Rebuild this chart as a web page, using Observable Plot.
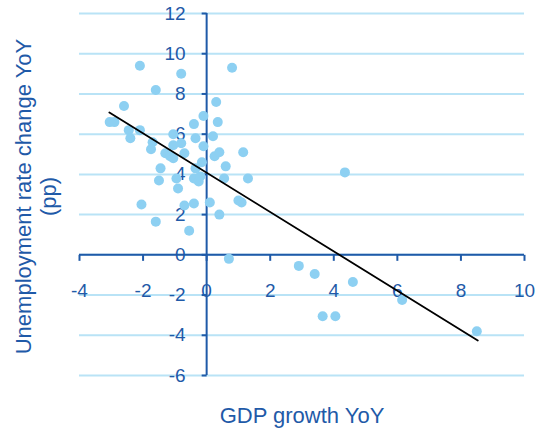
<!DOCTYPE html>
<html>
<head>
<meta charset="utf-8">
<script src="https://cdn.jsdelivr.net/npm/d3@7"></script>
<script src="https://cdn.jsdelivr.net/npm/@observablehq/plot@0.6"></script>
<style>
  html, body { margin: 0; padding: 0; background: #fff; }
</style>
</head>
<body>
<div id="chart"></div>
<script>
// GDP growth YoY (x) and unemployment rate change YoY in pp (y)
const gdpGrowth = [-2.1, -0.8, 0.8, -1.6, -2.6, 0.3, -3.05, -2.9, -0.1, 0.35,
  -0.4, -2.45, -2.1, -2.4, -1.05, -0.35, 0.2, -1.7, -0.8, -1.05,
  -0.1, -1.75, -1.3, -1.15, -1.05, -0.7, 0.25, 0.4, 1.15, -0.15,
  0.6, -1.45, -0.35, -1.5, -0.95, -0.4, -0.25, -0.2, 0.55, 1.3,
  -0.9, -2.05, -0.7, -0.4, 0.1, 1.0, 1.1, 0.4, -1.6, -0.55,
  0.7, 4.35, 2.9, 3.4, 4.6, 6.15, 3.65, 4.05, 8.5];
const unempChange = [9.4, 9.0, 9.3, 8.2, 7.4, 7.6, 6.6, 6.6, 6.9, 6.6,
  6.5, 6.2, 6.2, 5.8, 6.0, 5.8, 5.9, 5.6, 5.55, 5.45,
  5.4, 5.25, 5.05, 4.9, 4.8, 5.05, 4.9, 5.1, 5.1, 4.6,
  4.4, 4.3, 4.3, 3.7, 3.8, 3.8, 3.65, 3.9, 3.8, 3.8,
  3.3, 2.5, 2.45, 2.55, 2.6, 2.7, 2.6, 2.0, 1.65, 1.2,
  -0.2, 4.1, -0.55, -0.95, -1.35, -2.25, -3.05, -3.05, -3.8];
// linear trend line end points
const trendGdp = [-3.06, 8.53];
const trendUnemp = [7.08, -4.26];
// tick labels
const xTicks = [-4, -2, 0, 2, 4, 6, 8, 10];
const yTicks = [12, 10, 8, 6, 4, 2, 0, -2, -4, -6];
const xTitle = "GDP growth YoY";
const yTitle = "Unemployment rate change YoY\n(pp)";

const points = gdpGrowth.map((x, i) => ({x, y: unempChange[i]}));
const trend = trendGdp.map((x, i) => ({x, y: trendUnemp[i]}));

const axisColor = "#1f5aa8";
const gridColor = "#b9e3f6";
const dotColor = "#8dd0f2";
const font = "'Liberation Sans', Arial, sans-serif";

const yTickSym = {draw(ctx) { ctx.moveTo(-5, 0); ctx.lineTo(0, 0); }};
const xTickSym = {draw(ctx) { ctx.moveTo(0, 0); ctx.lineTo(0, 6); }};

const chart = Plot.plot({
  width: 535,
  height: 438,
  marginLeft: 79,
  marginRight: 11,
  marginTop: 13,
  marginBottom: 63,
  style: {fontFamily: font, background: "#fff", overflow: "visible"},
  x: {domain: [-4, 10], axis: null},
  y: {domain: [-6, 12], axis: null},
  marks: [
    Plot.ruleY(yTicks, {stroke: gridColor, strokeWidth: 2}),
    Plot.ruleX([0], {y1: yTicks[yTicks.length - 1], y2: yTicks[0], stroke: axisColor, strokeWidth: 2}),
    Plot.ruleY([0], {x1: xTicks[0], x2: xTicks[xTicks.length - 1], stroke: axisColor, strokeWidth: 2}),
    Plot.dot(yTicks, {x: 0, y: d => d, symbol: yTickSym, stroke: axisColor, strokeWidth: 2, fill: "none"}),
    Plot.dot(xTicks, {x: d => d, y: 0, symbol: xTickSym, stroke: axisColor, strokeWidth: 2, fill: "none"}),
    Plot.text(yTicks, {x: 0, y: d => d, text: d => String(d), dx: -21, textAnchor: "end", fill: axisColor, fontSize: 19}),
    Plot.text(xTicks, {x: d => d, y: 0, text: d => String(d), dy: 36, fill: axisColor, fontSize: 19}),
    Plot.dot(points, {x: "x", y: "y", r: 5, fill: dotColor, stroke: "none"}),
    Plot.line(trend, {x: "x", y: "y", stroke: "#000", strokeWidth: 1.8}),
    Plot.text([xTitle], {frameAnchor: "bottom", dy: 47, text: d => d, fill: axisColor, fontSize: 22}),
    Plot.text([yTitle], {frameAnchor: "left", textAnchor: "middle", dx: -44, dy: 2, rotate: -90, text: d => d, fill: axisColor, fontSize: 22, lineHeight: 1.15})
  ]
});
document.getElementById("chart").append(chart);
</script>
</body>
</html>
